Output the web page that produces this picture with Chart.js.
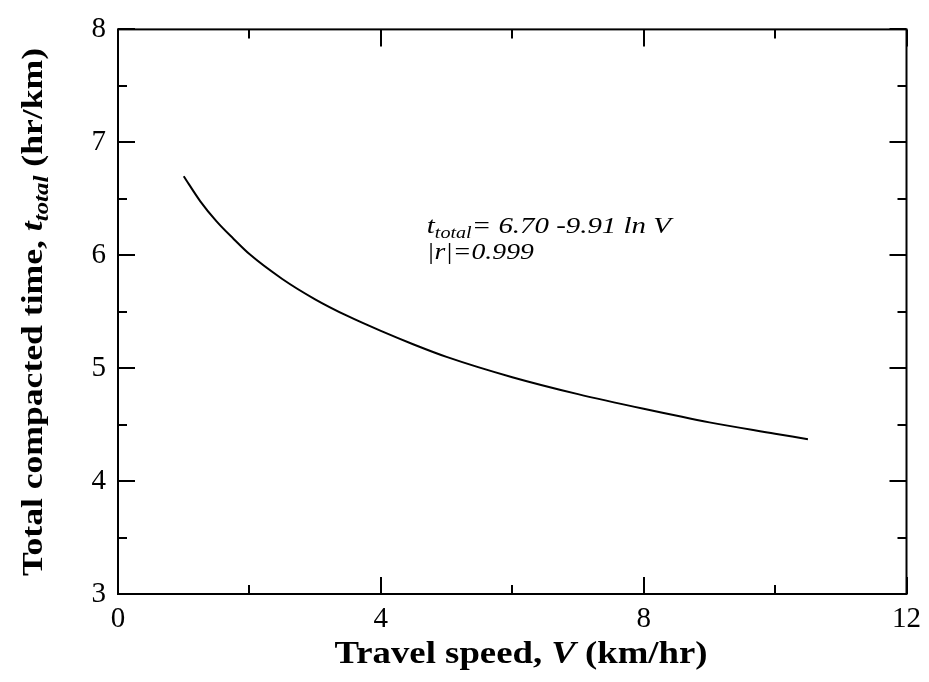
<!DOCTYPE html>
<html>
<head>
<meta charset="utf-8">
<script src="https://cdn.jsdelivr.net/npm/chart.js@4.4.1/dist/chart.umd.min.js"></script>
<style>
  html, body { margin: 0; padding: 0; background: #ffffff; }
  #wrap { position: relative; width: 929px; height: 682px; }
</style>
</head>
<body>
<div id="wrap"><canvas id="c"></canvas></div>
<script>
// ---- data ----
const speedV = [1.0, 1.25, 1.5, 1.75, 2.0, 2.5, 3.0, 3.5, 4.0, 4.5, 5.0, 6.0, 7.0, 8.0, 9.0, 10.0, 10.5];
const timeTotal = [6.70, 6.48, 6.30, 6.15, 6.01, 5.79, 5.61, 5.46, 5.33, 5.21, 5.10, 4.92, 4.77, 4.64, 4.52, 4.42, 4.37];
const xTickValues = [0, 4, 8, 12];
const yTickValues = [3, 4, 5, 6, 7, 8];
const xMinorTicks = [2, 6, 10];
const yMinorTicks = [3.5, 4.5, 5.5, 6.5, 7.5];
const xTitleParts = ['Travel speed, ', 'V', ' (km/hr)'];
const yTitleParts = ['Total compacted time, ', 't', 'total', ' (hr/km)'];
const eqLine1 = ['t', 'total', '= 6.70 -9.91 ln V'];
const eqLine2 = '|r|=0.999';
const eqAnchor = { x: 4.7, y: 6.20 };

const SERIF = '"Liberation Serif", "Times New Roman", serif';

function drawParts(ctx, parts, x, y, targetWidth, align) {
  let w = 0;
  parts.forEach(p => { ctx.font = p.f; w += ctx.measureText(p.t).width; });
  const sx = targetWidth ? targetWidth / w : 1;
  ctx.save();
  ctx.translate(x, y);
  ctx.scale(sx, 1);
  let cx = align === 'center' ? -w / 2 : 0;
  ctx.textBaseline = 'alphabetic';
  ctx.textAlign = 'left';
  parts.forEach(p => {
    ctx.font = p.f;
    ctx.fillText(p.t, cx, p.dy || 0);
    cx += ctx.measureText(p.t).width;
  });
  ctx.restore();
}

const decorPlugin = {
  id: 'decor',
  afterDraw(chart) {
    const ctx = chart.ctx;
    const a = chart.chartArea;
    const xs = chart.scales.x, ys = chart.scales.y;
    ctx.save();
    ctx.strokeStyle = '#000';
    ctx.fillStyle = '#000';
    ctx.lineWidth = 2;
    // frame
    ctx.strokeRect(a.left, a.top, a.right - a.left, a.bottom - a.top);
    // inward ticks on all four sides
    const major = 17, minor = 9;
    ctx.beginPath();
    xTickValues.concat(xMinorTicks).forEach(v => {
      const px = Math.round(xs.getPixelForValue(v));
      const len = xTickValues.includes(v) ? major : minor;
      ctx.moveTo(px, a.bottom); ctx.lineTo(px, a.bottom - len);
      ctx.moveTo(px, a.top); ctx.lineTo(px, a.top + len);
    });
    yTickValues.concat(yMinorTicks).forEach(v => {
      const py = Math.round(ys.getPixelForValue(v));
      const len = yTickValues.includes(v) ? major : minor;
      ctx.moveTo(a.left, py); ctx.lineTo(a.left + len, py);
      ctx.moveTo(a.right, py); ctx.lineTo(a.right - len, py);
    });
    ctx.stroke();

    // x-axis title
    drawParts(ctx, [
      { t: xTitleParts[0], f: 'bold 32px ' + SERIF },
      { t: xTitleParts[1], f: 'italic bold 32px ' + SERIF },
      { t: xTitleParts[2], f: 'bold 32px ' + SERIF }
    ], 521, 663, 373, 'center');

    // y-axis title (rotated)
    ctx.save();
    ctx.translate(42, 312);
    ctx.rotate(-Math.PI / 2);
    drawParts(ctx, [
      { t: yTitleParts[0], f: 'bold 30px ' + SERIF },
      { t: yTitleParts[1], f: 'italic bold 30px ' + SERIF },
      { t: yTitleParts[2], f: 'italic bold 21px ' + SERIF, dy: 6 },
      { t: yTitleParts[3], f: 'bold 30px ' + SERIF }
    ], 0, 0, 528, 'center');
    ctx.restore();

    // equation annotation
    const ex = xs.getPixelForValue(eqAnchor.x);
    const ey = ys.getPixelForValue(eqAnchor.y);
    drawParts(ctx, [
      { t: eqLine1[0], f: 'italic 23px ' + SERIF },
      { t: eqLine1[1], f: 'italic 16px ' + SERIF, dy: 5 },
      { t: eqLine1[2], f: 'italic 23px ' + SERIF }
    ], ex, ey, 244, 'left');
    drawParts(ctx, [
      { t: eqLine2, f: 'italic 23px ' + SERIF }
    ], ex, ey + 26, 107, 'left');
    ctx.restore();
  }
};

const points = speedV.map((v, i) => ({ x: v, y: timeTotal[i] }));

new Chart(document.getElementById('c'), {
  type: 'line',
  data: {
    datasets: [{
      data: points,
      borderColor: '#000',
      borderWidth: 2,
      pointRadius: 0,
      fill: false,
      cubicInterpolationMode: 'monotone'
    }]
  },
  options: {
    responsive: true,
    maintainAspectRatio: false,
    animation: false,
    events: [],
    layout: { padding: { left: 0, top: 27, right: 20, bottom: 0 } },
    plugins: { legend: { display: false }, tooltip: { enabled: false }, title: { display: false } },
    scales: {
      x: {
        type: 'linear',
        min: 0, max: 12,
        afterFit: s => { s.height = 88; },
        afterBuildTicks: s => { s.ticks = xTickValues.map(v => ({ value: v })); },
        grid: { display: false, drawTicks: false },
        border: { display: false },
        ticks: { color: '#000', padding: 8, maxRotation: 0, font: { family: SERIF, size: 29 } }
      },
      y: {
        type: 'linear',
        min: 3, max: 8,
        afterFit: s => { s.width = 118; },
        afterBuildTicks: s => { s.ticks = yTickValues.map(v => ({ value: v })); },
        grid: { display: false, drawTicks: false },
        border: { display: false },
        ticks: { color: '#000', padding: 12, font: { family: SERIF, size: 29 } }
      }
    }
  },
  plugins: [decorPlugin]
});
</script>
</body>
</html>
